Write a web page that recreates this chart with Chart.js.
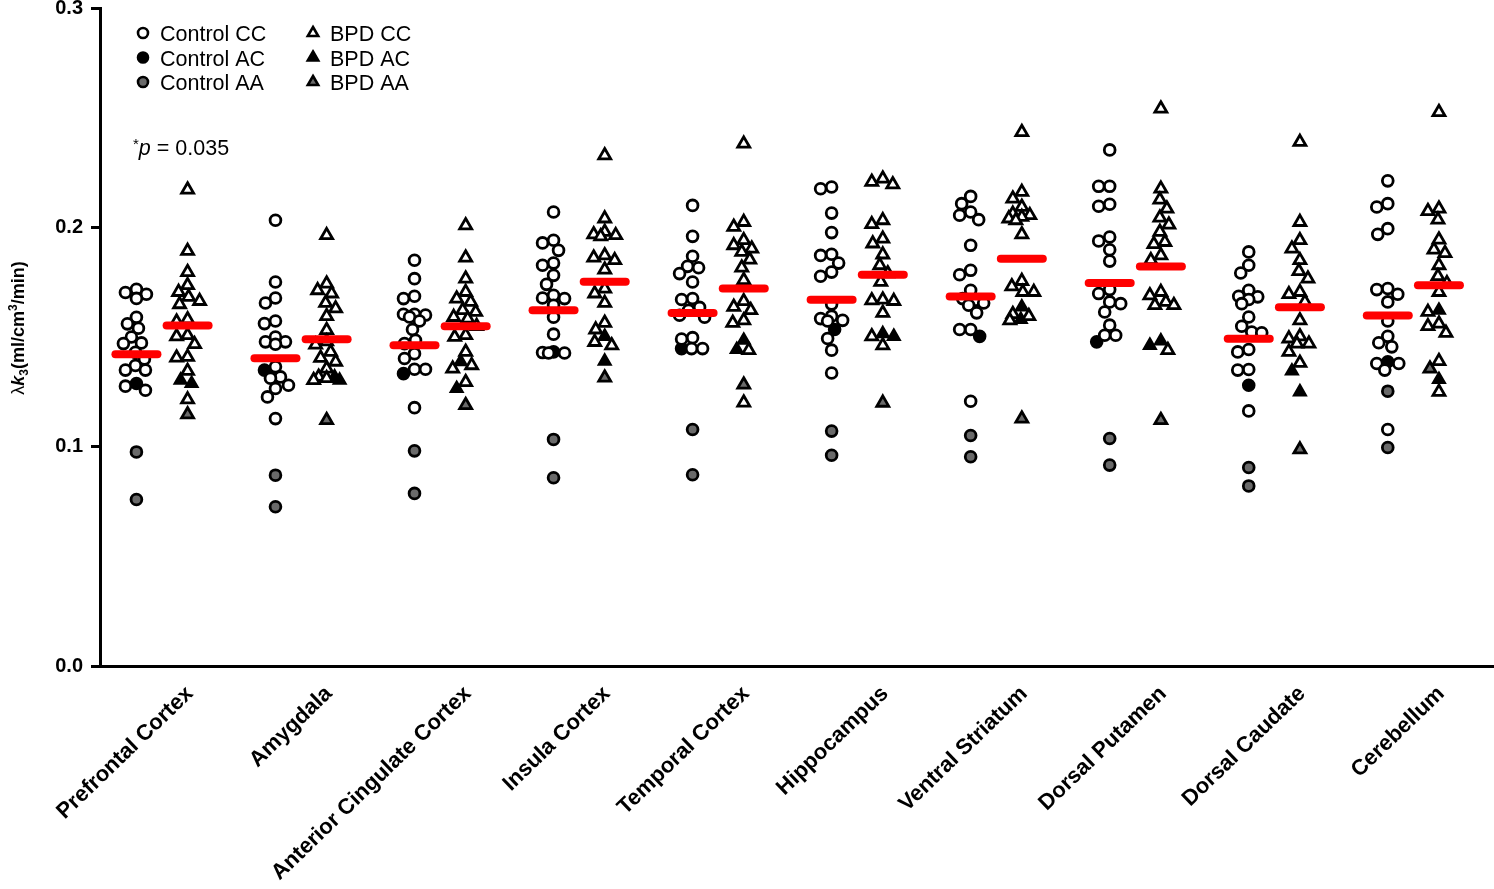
<!DOCTYPE html>
<html>
<head>
<meta charset="utf-8">
<script src="https://cdn.jsdelivr.net/npm/chart.js@4.4.0/dist/chart.umd.min.js"></script>
<style>
  html, body { margin: 0; padding: 0; background: #ffffff; }
  #c { display: block; }
</style>
</head>
<body>
<canvas id="c" width="1494" height="889"></canvas>
<script>
// ---------------- DATA ----------------
const categories = ["Prefrontal Cortex", "Amygdala", "Anterior Cingulate Cortex", "Insula Cortex",
  "Temporal Cortex", "Hippocampus", "Ventral Striatum", "Dorsal Putamen", "Dorsal Caudate", "Cerebellum"];

const yTicks = [0.0, 0.1, 0.2, 0.3];

const controlCC = [
  [0.1718, 0.1703, 0.1695, 0.1676, 0.159, 0.156, 0.154, 0.150, 0.1473, 0.147, 0.143, 0.140, 0.137, 0.1349, 0.1349, 0.1276, 0.1257],
  [0.2032, 0.1751, 0.1678, 0.1655, 0.1573, 0.1561, 0.150, 0.1478, 0.1478, 0.1467, 0.1364, 0.1318, 0.1312, 0.128, 0.1265, 0.1227, 0.1128],
  [0.185, 0.1766, 0.1686, 0.1675, 0.1604, 0.1604, 0.160, 0.1591, 0.1573, 0.1534, 0.1485, 0.147, 0.1424, 0.1402, 0.1353, 0.1353, 0.1178],
  [0.207, 0.1941, 0.1929, 0.1895, 0.1837, 0.1827, 0.1781, 0.174, 0.169, 0.1678, 0.1675, 0.1645, 0.159, 0.1513, 0.1429, 0.1427, 0.1427],
  [0.21, 0.1959, 0.1868, 0.1822, 0.1816, 0.1789, 0.1751, 0.1675, 0.1671, 0.1635, 0.1622, 0.1599, 0.159, 0.1497, 0.1491, 0.1447, 0.1447],
  [0.2184, 0.2176, 0.2065, 0.1976, 0.1877, 0.1872, 0.1837, 0.1796, 0.1777, 0.165, 0.1595, 0.1584, 0.1576, 0.1573, 0.1493, 0.144, 0.1336],
  [0.2141, 0.2108, 0.207, 0.2055, 0.2035, 0.1918, 0.1804, 0.1784, 0.1713, 0.1675, 0.1667, 0.1655, 0.1645, 0.161, 0.1534, 0.1534, 0.1207],
  [0.2353, 0.2187, 0.2187, 0.2105, 0.2096, 0.1956, 0.1938, 0.1898, 0.1846, 0.1716, 0.1698, 0.166, 0.1652, 0.1614, 0.1554, 0.1508, 0.1508],
  [0.1888, 0.1827, 0.1792, 0.1713, 0.1686, 0.1683, 0.1671, 0.1652, 0.1591, 0.1549, 0.1523, 0.1519, 0.1443, 0.1432, 0.1352, 0.1349, 0.1163],
  [0.2212, 0.2108, 0.2093, 0.1994, 0.1968, 0.1721, 0.1716, 0.1695, 0.166, 0.1573, 0.1503, 0.1474, 0.1455, 0.1379, 0.1379, 0.1349, 0.1078]
];
const controlAC = [[0.1288], [0.1349], [0.1333], [0.1432], [0.1447], [0.1534], [0.1503], [0.1478], [0.128], [0.1387]];
const controlAA = [[0.0976, 0.0759], [0.087, 0.0726], [0.0981, 0.0787], [0.1033, 0.0858], [0.1078, 0.0872],
  [0.1071, 0.0961], [0.1051, 0.0954], [0.1037, 0.0916], [0.0905, 0.0821], [0.1253, 0.0996]];

const bpdCC = [
  [0.2172, 0.1892, 0.1796, 0.1736, 0.1705, 0.1683, 0.1664, 0.1649, 0.158, 0.157, 0.1508, 0.1503, 0.1467, 0.1409, 0.1406, 0.1345, 0.1215],
  [0.1964, 0.1743, 0.1713, 0.1698, 0.1655, 0.163, 0.1595, 0.1531, 0.148, 0.1465, 0.1432, 0.1405, 0.1387, 0.1356, 0.1318, 0.1312, 0.1303],
  [0.2009, 0.1862, 0.1766, 0.1705, 0.1675, 0.166, 0.1622, 0.1614, 0.1591, 0.1584, 0.155, 0.1508, 0.15, 0.1432, 0.1371, 0.1356, 0.1294],
  [0.2328, 0.204, 0.1979, 0.1968, 0.1964, 0.1959, 0.1872, 0.1862, 0.185, 0.1807, 0.172, 0.1698, 0.1655, 0.1564, 0.1534, 0.1477, 0.1462],
  [0.2381, 0.2024, 0.2002, 0.1941, 0.1918, 0.1903, 0.1888, 0.1853, 0.1816, 0.1759, 0.1663, 0.1637, 0.1622, 0.1576, 0.1564, 0.144, 0.1201],
  [0.2222, 0.2207, 0.2196, 0.2032, 0.2014, 0.1948, 0.1926, 0.1876, 0.1827, 0.179, 0.1751, 0.167, 0.1667, 0.1664, 0.161, 0.1503, 0.1462],
  [0.2434, 0.2161, 0.2131, 0.2093, 0.2062, 0.2055, 0.2047, 0.204, 0.2032, 0.1968, 0.1755, 0.1731, 0.1705, 0.1705, 0.1604, 0.1595, 0.1576],
  [0.2541, 0.2176, 0.2126, 0.2085, 0.2044, 0.2012, 0.1979, 0.1933, 0.1923, 0.1872, 0.185, 0.1705, 0.169, 0.166, 0.1645, 0.1645, 0.144],
  [0.2389, 0.2024, 0.1941, 0.1903, 0.185, 0.18, 0.1766, 0.1705, 0.1695, 0.166, 0.1576, 0.1503, 0.1493, 0.147, 0.147, 0.1432, 0.1382],
  [0.2525, 0.2085, 0.2074, 0.2035, 0.1944, 0.1898, 0.1882, 0.1827, 0.1777, 0.1745, 0.1705, 0.1614, 0.1561, 0.1549, 0.1519, 0.139, 0.125]
];
const bpdAC = [[0.1288, 0.1303], [0.1303, 0.1318], [0.1387, 0.1265], [0.1503, 0.139], [0.1485, 0.1443],
  [0.1515, 0.1503], [0.1637, 0.158], [0.1482, 0.1462], [0.1345, 0.125], [0.1622, 0.1306]];
const bpdAA = [[0.1147], [0.1121], [0.1189], [0.1315], [0.1283], [0.12], [0.1128], [0.1121], [0.0987], [0.1356]];

const controlMean = [0.1421, 0.1403, 0.1462, 0.1622, 0.1609, 0.1670, 0.1685, 0.1746, 0.1492, 0.1598];
const bpdMean = [0.1553, 0.1490, 0.1549, 0.1752, 0.1721, 0.1784, 0.1857, 0.1821, 0.1636, 0.1736];

const pText = "p = 0.035";

// ---------------- LAYOUT HELPERS ----------------
const FONT = '"Liberation Sans", Arial, Helvetica, sans-serif';
const GROUP_OFFSET = 0.184;            // control left, BPD right of category centre
const PX_PER_X = 139, PX_PER_Y = 2195;  // approximate pixel scale used by the swarm layout

// compact beeswarm: offsets (in x units); markers may overlap slightly, spread is bounded
function swarmOffsets(vals, minDist, maxOff) {
  const order = vals.map((v, i) => i).sort((a, b) => vals[b] - vals[a]);
  const cands = [0];
  for (let c = 1; c <= maxOff; c++) cands.push(-c, c);
  const placed = [];
  const off = new Array(vals.length).fill(0);
  for (const i of order) {
    const y = vals[i] * PX_PER_Y;
    let best = null, bestD = -1;
    for (const c of cands) {
      const d = placed.length ? Math.min(...placed.map(p => Math.hypot(p.x - c, p.y - y))) : Infinity;
      if (d >= minDist) { best = c; break; }
      if (d > bestD + 0.5) { bestD = d; best = c; }
    }
    off[i] = best;
    placed.push({ x: best, y });
  }
  return off.map(o => o / PX_PER_X);
}

function buildGroup(ccArr, acArr, aaArr, side) {
  const out = { cc: [], ac: [], aa: [] };
  categories.forEach((_, r) => {
    const vals = [...ccArr[r], ...acArr[r], ...aaArr[r]];
    const tags = [...ccArr[r].map(() => 'cc'), ...acArr[r].map(() => 'ac'), ...aaArr[r].map(() => 'aa')];
    const offs = swarmOffsets(vals, 11, 13);
    vals.forEach((v, i) => out[tags[i]].push({ x: r + side * GROUP_OFFSET + offs[i], y: v }));
  });
  return out;
}

const ctrl = buildGroup(controlCC, controlAC, controlAA, -1);
const bpd = buildGroup(bpdCC, bpdAC, bpdAA, +1);

const GRAY = '#6a6a6a';
const CIRCLE_R = 5.4, TRI_R = 6.9, BW = 2.8;
const markerBase = { showLine: false, borderColor: '#000', borderWidth: BW };

const datasets = [
  { label: 'Control mean', data: controlMean.map((m, i) => ({ x: i - GROUP_OFFSET, y: m })), showLine: false,
    pointStyle: 'line', pointRadius: 21, pointHoverRadius: 21, borderColor: '#ff0000', backgroundColor: '#ff0000', borderWidth: 8, isMean: true },
  { label: 'BPD mean', data: bpdMean.map((m, i) => ({ x: i + GROUP_OFFSET, y: m })), showLine: false,
    pointStyle: 'line', pointRadius: 21, pointHoverRadius: 21, borderColor: '#ff0000', backgroundColor: '#ff0000', borderWidth: 8, isMean: true },
  { ...markerBase, label: 'Control CC', data: ctrl.cc, pointStyle: 'circle', pointRadius: CIRCLE_R, pointHoverRadius: CIRCLE_R, backgroundColor: '#ffffff' },
  { ...markerBase, label: 'Control AC', data: ctrl.ac, pointStyle: 'circle', pointRadius: CIRCLE_R, pointHoverRadius: CIRCLE_R, backgroundColor: '#000000' },
  { ...markerBase, label: 'Control AA', data: ctrl.aa, pointStyle: 'circle', pointRadius: CIRCLE_R, pointHoverRadius: CIRCLE_R, backgroundColor: GRAY },
  { ...markerBase, label: 'BPD CC', data: bpd.cc, pointStyle: 'triangle', pointRadius: TRI_R, pointHoverRadius: TRI_R, backgroundColor: '#ffffff' },
  { ...markerBase, label: 'BPD AC', data: bpd.ac, pointStyle: 'triangle', pointRadius: TRI_R - 0.6, pointHoverRadius: TRI_R, backgroundColor: '#000000' },
  { ...markerBase, label: 'BPD AA', data: bpd.aa, pointStyle: 'triangle', pointRadius: TRI_R, pointHoverRadius: TRI_R, backgroundColor: GRAY }
];

// ---------------- PLUGINS ----------------
const roundCaps = {
  id: 'roundCaps',
  beforeDatasetDraw(chart, args) {
    chart.ctx.lineCap = chart.data.datasets[args.index].isMean ? 'round' : 'butt';
    chart.ctx.lineJoin = 'miter';
  },
  afterDatasetDraw(chart) { chart.ctx.lineCap = 'butt'; }
};

function drawRich(ctx, segs, x, y, align) {
  let total = 0;
  segs.forEach(s => { ctx.font = s.font; s.w = ctx.measureText(s.t).width; total += s.w + (s.gap || 0); });
  let cx = align === 'center' ? x - total / 2 : x;
  ctx.textAlign = 'left';
  ctx.textBaseline = 'alphabetic';
  segs.forEach(s => { ctx.font = s.font; ctx.fillText(s.t, cx, y + (s.dy || 0)); cx += s.w + (s.gap || 0); });
}

const annotations = {
  id: 'annotations',
  afterDraw(chart) {
    const ctx = chart.ctx;
    const area = chart.chartArea;
    ctx.save();
    ctx.fillStyle = '#000';
    // y-axis title (rotated, with subscript and superscript)
    ctx.translate(24, (area.top + area.bottom) / 2 - 9);
    ctx.rotate(-Math.PI / 2);
    drawRich(ctx, [
      { t: 'λ', font: `18px ${FONT}` },
      { t: 'k', font: `italic bold 18px ${FONT}` },
      { t: '3', font: `bold 12px ${FONT}`, dy: 4 },
      { t: '(ml/cm', font: `bold 18px ${FONT}` },
      { t: '3', font: `bold 12px ${FONT}`, dy: -7 },
      { t: '/min)', font: `bold 18px ${FONT}` }
    ], 0, 0, 'center');
    ctx.restore();

    // p-value note
    ctx.save();
    ctx.fillStyle = '#000';
    drawRich(ctx, [
      { t: '*', font: `15px ${FONT}`, dy: -6 },
      { t: pText.slice(0, 1), font: `italic 21.5px ${FONT}` },
      { t: pText.slice(1), font: `21.5px ${FONT}` }
    ], area.left + 33, 155, 'left');
    ctx.restore();

    // legend in two columns
    ctx.save();
    const cols = [[2, 3, 4], [5, 6, 7]];
    const colX = [area.left + 43, area.left + 213];
    const rowY = [33, 57.5, 82];
    cols.forEach((col, ci) => {
      col.forEach((di, ri) => {
        const ds = chart.data.datasets[di];
        const mx = colX[ci], my = rowY[ri];
        ctx.fillStyle = ds.backgroundColor;
        ctx.strokeStyle = ds.borderColor;
        ctx.lineWidth = 2.6;
        Chart.helpers.drawPoint(ctx, {
          pointStyle: ds.pointStyle, rotation: 0, borderWidth: 2.6,
          radius: ds.pointStyle === 'circle' ? 5 : 6
        }, mx, my);
        ctx.fillStyle = '#000';
        ctx.font = `21.5px ${FONT}`;
        ctx.textAlign = 'left';
        ctx.textBaseline = 'alphabetic';
        ctx.fillText(ds.label, mx + 17, my + 8);
      });
    });
    ctx.restore();
  }
};

// ---------------- CHART ----------------
new Chart(document.getElementById('c'), {
  type: 'scatter',
  data: { datasets },
  options: {
    responsive: false,
    animation: false,
    layout: { autoPadding: false, padding: { top: 8, right: 0, left: 0, bottom: 0 } },
    plugins: { legend: { display: false }, tooltip: { enabled: false } },
    scales: {
      x: {
        type: 'linear',
        min: -0.446,
        max: 9.58,
        afterBuildTicks: axis => { axis.ticks = categories.map((_, i) => ({ value: i + 0.2 })); },
        afterFit: axis => { axis.height = 223; axis.paddingLeft = 0; axis.paddingRight = 0; },
        ticks: {
          callback: (v, i) => categories[i],
          autoSkip: false,
          minRotation: 44,
          maxRotation: 44,
          padding: 15,
          color: '#000',
          font: { family: FONT, size: 22, weight: 'bold' }
        },
        grid: { display: false, drawTicks: false },
        border: { display: true, color: '#000', width: 3 }
      },
      y: {
        min: 0,
        max: 0.3,
        afterBuildTicks: axis => { axis.ticks = yTicks.map(v => ({ value: v })); },
        afterFit: axis => { axis.width = 100; axis.paddingTop = 0; axis.paddingBottom = 0; },
        ticks: {
          callback: v => v.toFixed(1),
          padding: 8,
          color: '#000',
          font: { family: FONT, size: 20, weight: 'bold' }
        },
        grid: { drawOnChartArea: false, drawTicks: true, tickLength: 9, color: '#000', lineWidth: 3 },
        border: { display: true, color: '#000', width: 3 }
      }
    }
  },
  plugins: [roundCaps, annotations]
});
</script>
</body>
</html>
